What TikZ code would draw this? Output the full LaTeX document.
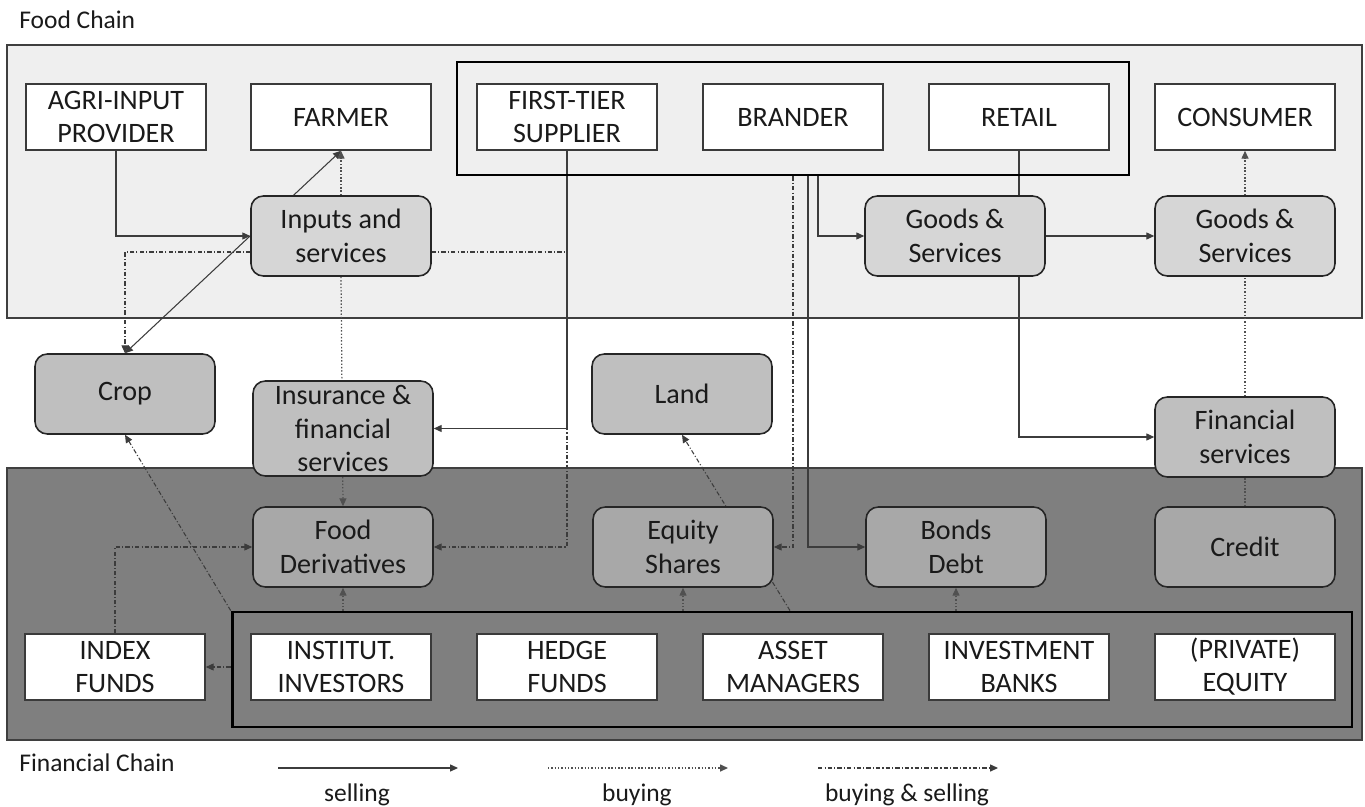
\documentclass[tikz,border=0pt]{standalone}
\usepackage{fontspec}
\setmainfont{Carlito}
\usetikzlibrary{arrows.meta,calc}
\pgfdeclarelayer{regions}
\pgfdeclarelayer{lines}
\pgfsetlayers{regions,lines,main}
\definecolor{lightfill}{HTML}{EFEFEF}
\definecolor{darkfill}{HTML}{7F7F7F}
\definecolor{regionline}{HTML}{3F3F3F}
\definecolor{boxline}{HTML}{3A3A3A}
\definecolor{rline}{HTML}{262626}
\definecolor{rlight}{HTML}{D6D6D6}
\definecolor{rmid}{HTML}{BFBFBF}
\definecolor{rdark}{HTML}{A8A8A8}
\definecolor{linecol}{HTML}{3C3C3C}
\definecolor{txtcol}{HTML}{1A1A1A}
\begin{document}
\begin{tikzpicture}[x=0.02cm,y=-0.02cm,
 >={Triangle[length=4.5pt,width=4pt]},
 wbox/.style={draw=boxline,line width=0.9pt,fill=white,minimum width=3.6cm,minimum height=1.32cm,inner sep=0pt,align=center,text=txtcol,font=\fontsize{16}{18.8}\selectfont},
 rbox/.style={draw=rline,line width=0.9pt,rounded corners=7pt,minimum width=3.6cm,minimum height=1.6cm,inner sep=0pt,align=center,text=txtcol,font=\fontsize{16}{19.3}\selectfont},
 lightr/.style={rbox,fill=rlight},
 midr/.style={rbox,fill=rmid},
 darkr/.style={rbox,fill=rdark},
 grp/.style={draw=black,line width=1.6pt,inner sep=0pt},
 lbl/.style={text=txtcol,font=\fontsize{14.5}{17}\selectfont},
 sell/.style={draw=linecol,line width=0.6pt},
 buy/.style={draw=linecol!90,line width=0.7pt,dash pattern=on 0.8pt off 1.1pt},
 both/.style={draw=linecol,line width=0.6pt,dash pattern=on 2.5pt off 1.2pt on 0.6pt off 1.2pt},
]
\useasboundingbox (0,0) rectangle (1365,807);
\begin{pgfonlayer}{regions}
\fill[white] (0,0) rectangle (1365,807);
\draw[draw=regionline,line width=0.8pt,fill=lightfill] (7,45) rectangle (1362,318);
\draw[draw=regionline,line width=0.8pt,fill=darkfill] (7,468) rectangle (1362,740);
\end{pgfonlayer}

% titles
\node[lbl,anchor=base west,inner sep=0pt] (fctitle) at (19,29) {Food Chain};
\node[lbl,anchor=base west,inner sep=0pt] (fintitle) at (19,771) {Financial Chain};

% group boxes
\node[grp,minimum width=13.44cm,minimum height=2.26cm] (supply) at (793,118.5) {};
\node[grp,minimum width=22.4cm,minimum height=2.3cm] (group) at (792,669.5) {};

% top row
\node[wbox] (agri) at (116,117) {AGRI-INPUT\\PROVIDER};
\node[wbox] (farmer) at (341,117) {FARMER};
\node[wbox] (supplier) at (567,117) {FIRST-TIER\\SUPPLIER};
\node[wbox] (brander) at (793,117) {BRANDER};
\node[wbox] (retail) at (1019,117) {RETAIL};
\node[wbox] (consumer) at (1245,117) {CONSUMER};

% rounded boxes
\node[lightr] (inputs) at (341,236) {Inputs and\\services};
\node[lightr] (gs1) at (955,236) {Goods \&\\Services};
\node[lightr] (gs2) at (1245,236) {Goods \&\\Services};
\node[midr] (crop) at (125,394) {Crop};
\node[midr,minimum height=1.9cm] (insur) at (343,428.5) {Insurance \&\\financial\\services};
\node[midr] (land) at (682,394) {Land};
\node[midr] (finserv) at (1245,437) {Financial\\services};
\node[darkr] (fooddev) at (343,547) {Food\\Derivatives};
\node[darkr] (equity) at (683,547) {Equity\\Shares};
\node[darkr] (bonds) at (956,547) {Bonds\\Debt};
\node[darkr] (credit) at (1245,547) {Credit};

% bottom row
\node[wbox] (index) at (115,667) {INDEX\\FUNDS};
\node[wbox] (instit) at (341,667) {INSTITUT.\\INVESTORS};
\node[wbox] (hedge) at (567,667) {HEDGE\\FUNDS};
\node[wbox] (asset) at (793,667) {ASSET\\MANAGERS};
\node[wbox] (invbank) at (1019,667) {INVESTMENT\\BANKS};
\node[wbox] (private) at (1245,667) {(PRIVATE)\\EQUITY};

% legend
\coordinate (ls1) at (278,768); \coordinate (ls2) at (458,768);
\coordinate (lb1) at (548,768); \coordinate (lb2) at (728,768);
\coordinate (lx1) at (818,768); \coordinate (lx2) at (998,768);
\node[lbl,anchor=base] (lsell) at (357,801) {selling};
\node[lbl,anchor=base] (lbuy) at (637,801) {buying};
\node[lbl,anchor=base] (lboth) at (907,801) {buying \& selling};

\begin{pgfonlayer}{lines}
% selling
\draw[sell,->] (agri.south) |- (inputs.west);
\draw[sell,<->] (crop.north) -- (farmer.south);
\draw[sell,->] (supplier.south) |- (insur.east);
\draw[sell,->] ($(supply.south -| brander.south)+(25,0)$) |- (gs1.west);
\draw[sell,->] ($(supply.south -| brander.south)+(15,0)$) |- (bonds.west);
\draw[sell,->] (retail.south) |- (finserv.west);
\draw[sell,->] (gs1.east) -- (gs2.west);
% buying
\draw[buy,->] (inputs.north) -- (farmer.south);
\draw[buy,->] (inputs.south) -- (fooddev.north);
\draw[buy,->] (gs2.north) -- (consumer.south);
\draw[buy] (credit.north) -- (gs2.south);
\draw[buy,->] (group.north -| fooddev.south) -- (fooddev.south);
\draw[buy,->] (group.north -| equity.south) -- (equity.south);
\draw[buy,->] (group.north -| bonds.south) -- (bonds.south);
% buying & selling
\draw[both,->] ($(inputs.west)+(0,16)$) -| (crop.north);
\draw[both,->] ($(inputs.east)+(0,16)$) -| (supplier.south |- fooddev.east) -- (fooddev.east);
\draw[both,->] (supply.south -| brander.south) |- (equity.east);
\draw[both,->] (index.north) |- (fooddev.west);
\draw[both,->] (group.west |- index.east) -- (index.east);
\draw[both,->] (group.north west) -- (crop.south);
\draw[both,->] ($(group.north -| asset.north)+(-3,0)$) -- (land.south);
% legend lines
\draw[sell,->] (ls1) -- (ls2);
\draw[buy,->] (lb1) -- (lb2);
\draw[both,->] (lx1) -- (lx2);
\end{pgfonlayer}
\end{tikzpicture}
\end{document}
